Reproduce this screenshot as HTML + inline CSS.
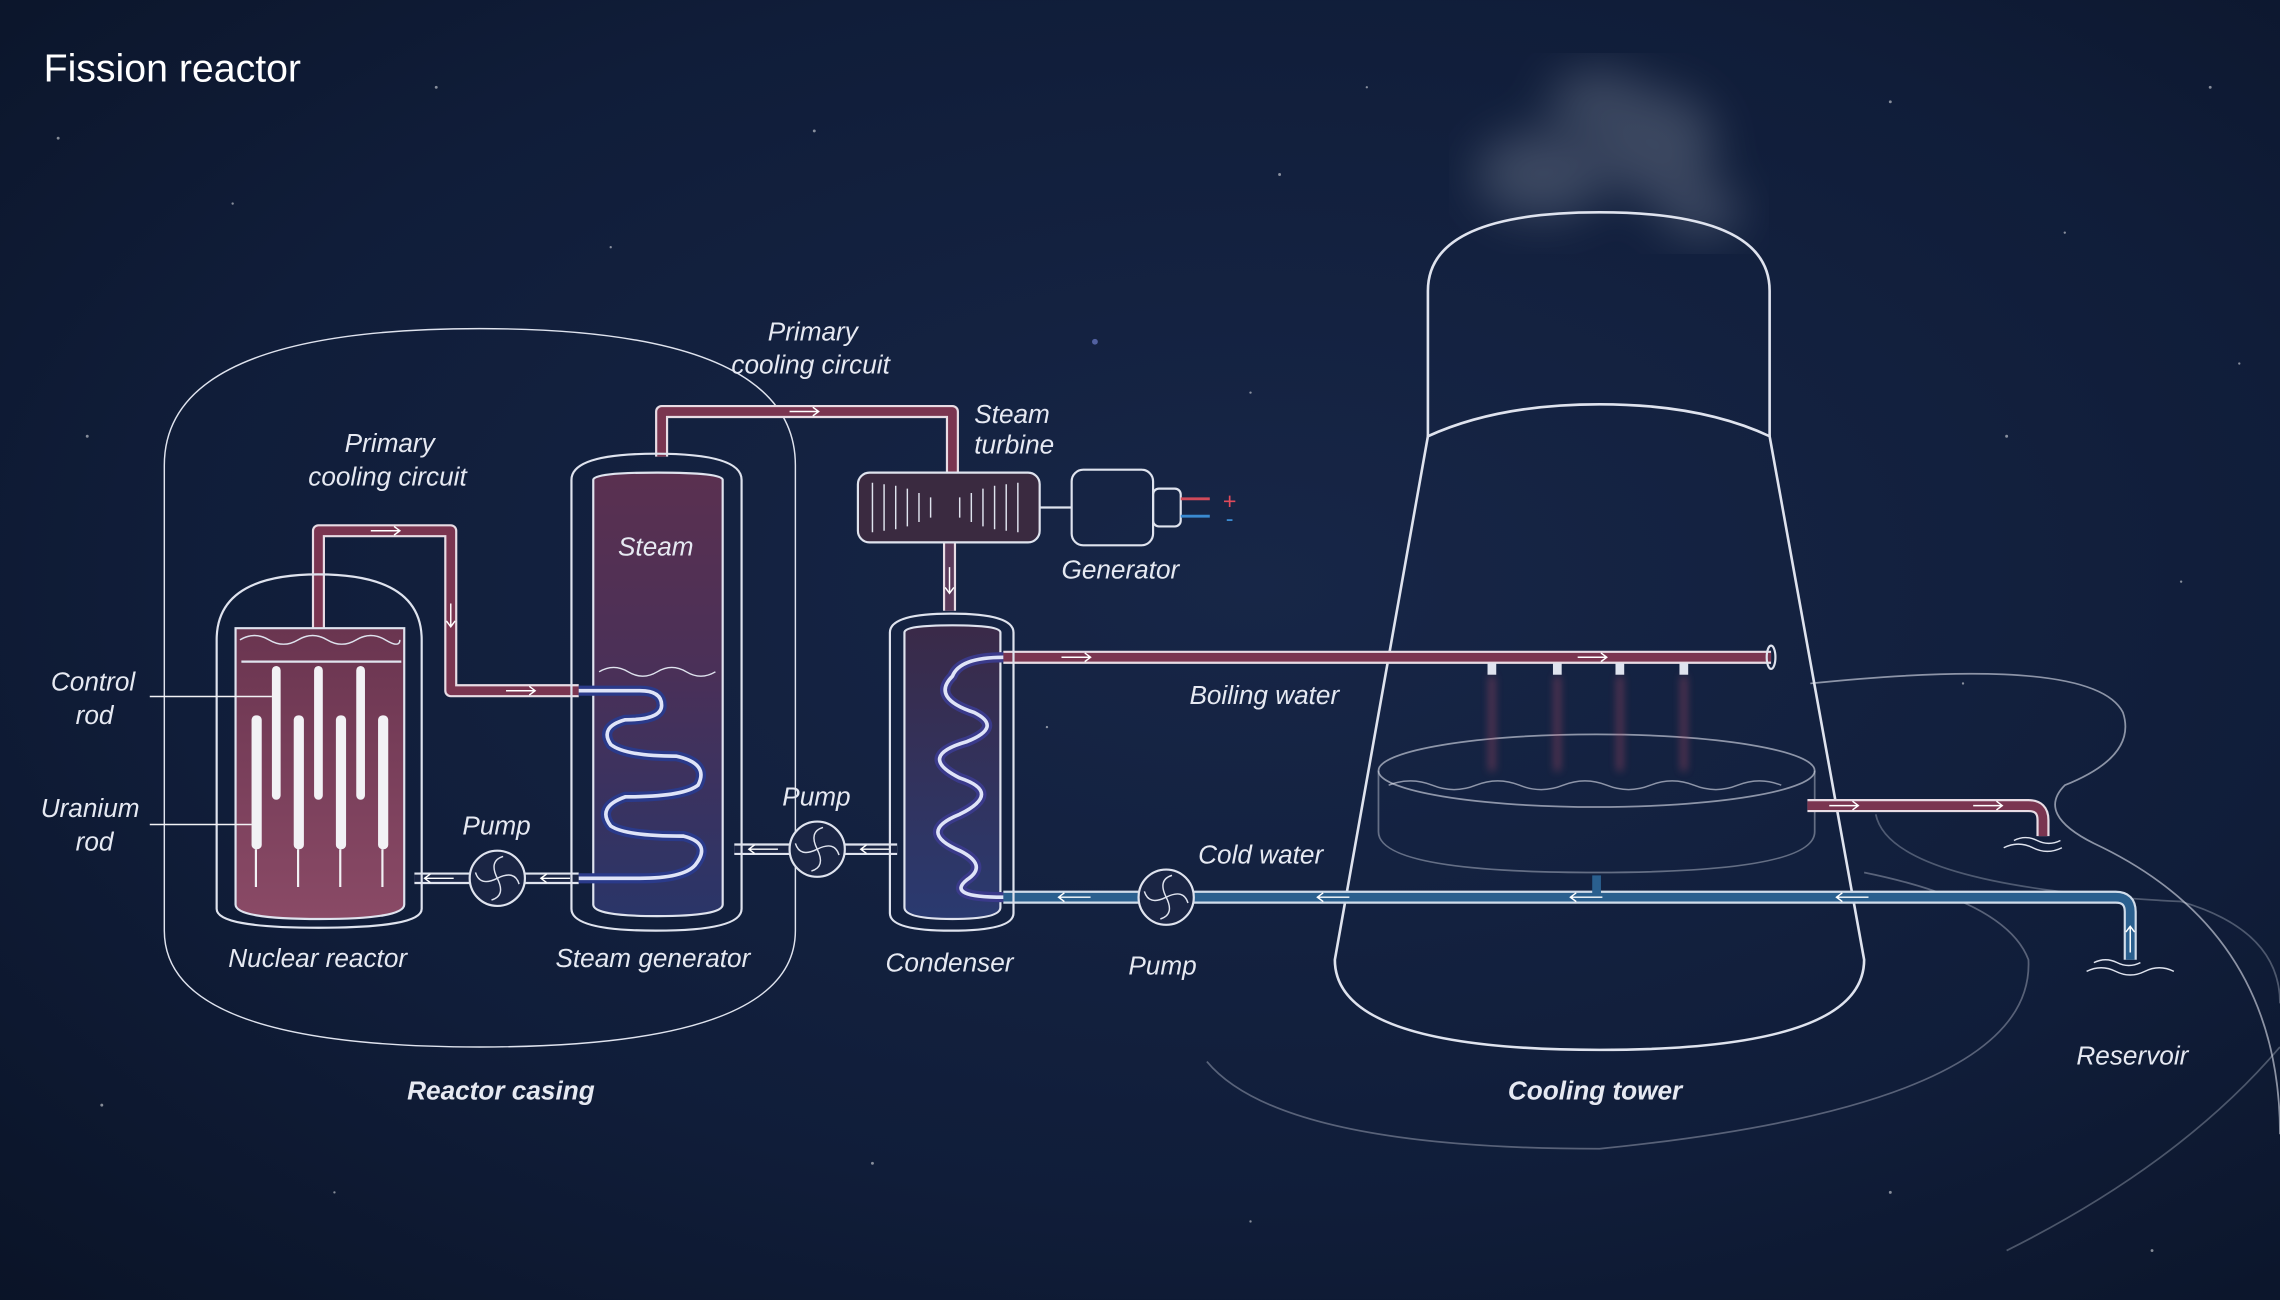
<!DOCTYPE html>
<html><head><meta charset="utf-8"><style>
html,body{margin:0;padding:0;background:#0b1630;}
svg{display:block}
text{font-family:"Liberation Sans",sans-serif;fill:#e6e9f2;font-style:italic;font-size:18px}
</style></head><body>
<svg width="2280" height="1300" viewBox="0 0 1568 894" xmlns="http://www.w3.org/2000/svg">
<defs>
<radialGradient id="bg" cx="0.55" cy="0.45" r="0.8">
<stop offset="0" stop-color="#172647"/><stop offset="0.6" stop-color="#101d39"/><stop offset="1" stop-color="#0a1326"/></radialGradient>
<linearGradient id="core" x1="0" y1="0" x2="0" y2="1"><stop offset="0" stop-color="#6a3550"/><stop offset="1" stop-color="#8a4a66"/></linearGradient>
<linearGradient id="sg" x1="0" y1="0" x2="0" y2="1"><stop offset="0" stop-color="#5a3050"/><stop offset="0.45" stop-color="#4a3058"/><stop offset="1" stop-color="#2a3568"/></linearGradient>
<linearGradient id="cond" x1="0" y1="0" x2="0" y2="1"><stop offset="0" stop-color="#3a2a48"/><stop offset="1" stop-color="#2a3a70"/></linearGradient>
<filter id="blur"><feGaussianBlur stdDeviation="16"/></filter>
<filter id="b2"><feGaussianBlur stdDeviation="3"/></filter>
</defs>
<rect width="1568" height="894" fill="url(#bg)"/>
<g fill="#fff" opacity="0.5">
<circle cx="40" cy="95" r="1"/><circle cx="160" cy="140" r="0.8"/><circle cx="300" cy="60" r="1"/><circle cx="420" cy="170" r="0.8"/><circle cx="560" cy="90" r="1"/><circle cx="753" cy="235" r="2" fill="#8fa0ff"/><circle cx="880" cy="120" r="1"/><circle cx="1300" cy="70" r="1"/><circle cx="1420" cy="160" r="0.8"/><circle cx="1520" cy="60" r="1"/><circle cx="1380" cy="300" r="1"/><circle cx="1500" cy="400" r="0.8"/><circle cx="70" cy="760" r="1"/><circle cx="600" cy="800" r="1"/><circle cx="860" cy="840" r="0.8"/><circle cx="1300" cy="820" r="1"/><circle cx="1480" cy="860" r="1"/><circle cx="230" cy="820" r="0.8"/><circle cx="720" cy="500" r="0.8"/><circle cx="1350" cy="470" r="0.8"/><circle cx="60" cy="300" r="1"/><circle cx="860" cy="270" r="0.8"/><circle cx="940" cy="60" r="0.8"/><circle cx="1540" cy="250" r="0.8"/>
</g>
<g filter="url(#blur)" fill="#cfd5e0" opacity="0.22">
<ellipse cx="1060" cy="120" rx="45" ry="30"/><ellipse cx="1140" cy="100" rx="40" ry="38"/><ellipse cx="1100" cy="70" rx="35" ry="22"/><ellipse cx="1170" cy="145" rx="28" ry="18"/>
</g>
<text x="30" y="56" style="font-style:normal;font-size:27px;fill:#fff">Fission reactor</text>

<g fill="none" stroke="#dfe3ee" stroke-width="1.2">
<path d="M113,640 L113,320 Q113,226 330,226 Q547,226 547,320 L547,640 Q547,720 330,720 Q113,720 113,640 Z" stroke-width="1"/>
<path d="M982,300 L982,200 Q982,146 1100,146 Q1217,146 1217,200 L1217,300" stroke-width="1.8"/>
<path d="M982,300 Q1030,278 1100,278 Q1170,278 1217,300 L1282,660 Q1282,722 1100,722 Q918,722 918,660 Z" stroke-width="1.8"/>
<ellipse cx="1098" cy="530" rx="150" ry="25" stroke-opacity="0.6"/>
<path d="M948,530 L948,572 Q948,600 1098,600 Q1248,600 1248,572 L1248,530" stroke-opacity="0.4"/>
<path d="M1245,470 Q1440,450 1460,490 Q1470,520 1420,540 Q1400,560 1440,580 Q1568,640 1568,780" stroke-opacity="0.6"/>
<path d="M1282,600 Q1380,620 1395,660 Q1400,760 1100,790 Q880,790 830,730" stroke-opacity="0.35"/>
<path d="M1290,560 Q1300,610 1500,620 Q1568,640 1568,690" stroke-opacity="0.3"/>
<path d="M1380,860 Q1500,800 1568,720" stroke-opacity="0.3"/>
</g>

<g fill="none" stroke-linejoin="round">
<path d="M219,440 L219,365 L310,365 L310,475 L398,475" stroke="#e8dce4" stroke-width="9"/>
<path d="M219,440 L219,365 L310,365 L310,475 L398,475" stroke="#7a3550" stroke-width="6"/>
<path d="M455,314 L455,283 L655,283 L655,326" stroke="#e8dce4" stroke-width="9"/>
<path d="M455,314 L455,283 L655,283 L655,326" stroke="#7a3550" stroke-width="6"/>
<path d="M653,373 L653,420" stroke="#e8dce4" stroke-width="9"/><path d="M653,373 L653,420" stroke="#5a3a5a" stroke-width="6"/>
<path d="M690,452 L1218,452" stroke="#e8dce4" stroke-width="9"/><path d="M690,452 L1218,452" stroke="#7a3550" stroke-width="6"/>
<path d="M1243,554 L1395,554 Q1405,554 1405,564 L1405,575" stroke="#e8dce4" stroke-width="9"/><path d="M1243,554 L1395,554 Q1405,554 1405,564 L1405,575" stroke="#7a3550" stroke-width="6"/>
<path d="M690,617 L1455,617 Q1465,617 1465,627 L1465,660" stroke="#d0dcea" stroke-width="9"/>
<path d="M690,617 L1455,617 Q1465,617 1465,627 L1465,660" stroke="#2a5f8e" stroke-width="6"/>
<path d="M1098,617 L1098,602" stroke="#2a5f8e" stroke-width="6"/>
<path d="M285,604 L398,604" stroke="#dfe3ee" stroke-width="8"/><path d="M285,604 L398,604" stroke="#1a2544" stroke-width="5"/>
<path d="M505,584 L617,584" stroke="#dfe3ee" stroke-width="8"/><path d="M505,584 L617,584" stroke="#1a2544" stroke-width="5"/>
</g>
<g stroke="#c0506a" stroke-width="3" opacity="0.6" filter="url(#b2)">
<line x1="1026" y1="465" x2="1026" y2="530"/><line x1="1071" y1="465" x2="1071" y2="530"/><line x1="1114" y1="465" x2="1114" y2="530"/><line x1="1158" y1="465" x2="1158" y2="530"/>
</g>
<g fill="#dfe3ee"><rect x="1023" y="456" width="6" height="8"/><rect x="1068" y="456" width="6" height="8"/><rect x="1111" y="456" width="6" height="8"/><rect x="1155" y="456" width="6" height="8"/></g>
<ellipse cx="1218" cy="452" rx="3" ry="8" fill="none" stroke="#dfe3ee" stroke-width="1.5"/>
<g fill="none" stroke="#fff" stroke-width="1">
<path d="M255,365 h20 m-4,-3 l4,3 l-4,3"/><path d="M310,415 v16 m-3,-4 l3,4 l3,-4"/><path d="M348,475 h20 m-4,-3 l4,3 l-4,3"/>
<path d="M543,283 h20 m-4,-3 l4,3 l-4,3"/><path d="M653,390 v18 m-3,-4 l3,4 l3,-4"/>
<path d="M730,452 h20 m-4,-3 l4,3 l-4,3"/><path d="M1085,452 h20 m-4,-3 l4,3 l-4,3"/>
<path d="M1258,554 h20 m-4,-3 l4,3 l-4,3"/><path d="M1357,554 h20 m-4,-3 l4,3 l-4,3"/>
<path d="M750,617 h-22 m4,-3 l-4,3 l4,3"/><path d="M928,617 h-22 m4,-3 l-4,3 l4,3"/><path d="M1102,617 h-22 m4,-3 l-4,3 l4,3"/><path d="M1285,617 h-22 m4,-3 l-4,3 l4,3"/>
<path d="M1465,655 v-18 m-3,4 l3,-4 l3,4"/>
<path d="M392,604 h-20 m4,-3 l-4,3 l4,3"/><path d="M312,604 h-20 m4,-3 l-4,3 l4,3"/>
<path d="M612,584 h-20 m4,-3 l-4,3 l4,3"/><path d="M535,584 h-20 m4,-3 l-4,3 l4,3"/>
</g>

<g fill="none" stroke="#dfe3ee" stroke-width="1.5">
<path d="M149,625 L149,440 Q149,395 219,395 Q290,395 290,440 L290,625 Q290,638 219,638 Q149,638 149,625 Z"/>
<path d="M162,432 L278,432 L278,622 Q278,632 220,632 Q162,632 162,622 Z" fill="url(#core)"/>
<path d="M165,440 q10,-6 20,0 t20,0 t20,0 t20,0 t20,0 t10,0" stroke-width="1"/>
<line x1="166" y1="455" x2="276" y2="455"/>
</g>
<g fill="#f2f2f5">
<rect x="187" y="458" width="6" height="92" rx="3"/><rect x="216" y="458" width="6" height="92" rx="3"/><rect x="245" y="458" width="6" height="92" rx="3"/>
<rect x="173" y="492" width="7" height="92" rx="3"/><rect x="202" y="492" width="7" height="92" rx="3"/><rect x="231" y="492" width="7" height="92" rx="3"/><rect x="260" y="492" width="7" height="92" rx="3"/>
</g>
<g stroke="#f2f2f5" stroke-width="1.5"><line x1="176" y1="584" x2="176" y2="610"/><line x1="205" y1="584" x2="205" y2="610"/><line x1="234" y1="584" x2="234" y2="610"/><line x1="263" y1="584" x2="263" y2="610"/>
<line x1="103" y1="479" x2="187" y2="479" stroke-width="1"/><line x1="103" y1="567" x2="173" y2="567" stroke-width="1"/></g>

<g fill="none" stroke="#dfe3ee" stroke-width="1.5">
<path d="M393,330 Q393,312 451,312 Q510,312 510,330 L510,625 Q510,640 451,640 Q393,640 393,625 Z"/>
<path d="M408,330 Q408,325 452,325 Q497,325 497,330 L497,622 Q497,630 452,630 Q408,630 408,622 Z" fill="url(#sg)"/>
<path d="M412,462 q10,-6 20,0 t20,0 t20,0 t20,0" stroke-width="1"/>
<path d="M398,475 L440,475 Q455,475 455,485 Q455,495 430,495 Q412,500 420,512 Q430,520 465,520 Q488,525 480,540 Q470,548 430,548 Q410,555 420,568 Q430,575 470,575 Q490,580 478,595 Q470,604 440,604 L398,604" stroke="#2a3a8a" stroke-width="7"/>
<path d="M398,475 L440,475 Q455,475 455,485 Q455,495 430,495 Q412,500 420,512 Q430,520 465,520 Q488,525 480,540 Q470,548 430,548 Q410,555 420,568 Q430,575 470,575 Q490,580 478,595 Q470,604 440,604 L398,604" stroke="#dfe4f8" stroke-width="2.5"/>
</g>
<g fill="none" stroke="#dfe3ee" stroke-width="1.5">
<path d="M612,435 Q612,422 654,422 Q697,422 697,435 L697,628 Q697,640 654,640 Q612,640 612,628 Z"/>
<path d="M622,435 Q622,430 655,430 Q688,430 688,435 L688,624 Q688,632 655,632 Q622,632 622,624 Z" fill="url(#cond)"/>
<path d="M690,452 Q660,452 655,465 Q640,480 670,490 Q690,500 665,510 Q630,520 660,535 Q690,545 660,560 Q630,572 660,585 Q680,595 665,605 Q650,617 690,617" stroke="#3a3a8a" stroke-width="7"/>
<path d="M690,452 Q660,452 655,465 Q640,480 670,490 Q690,500 665,510 Q630,520 660,535 Q690,545 660,560 Q630,572 660,585 Q680,595 665,605 Q650,617 690,617" stroke="#dfe4f8" stroke-width="2.5"/>
</g>
<g fill="none" stroke="#dfe3ee" stroke-width="1.5">
<rect x="590" y="325" width="125" height="48" rx="8" fill="#3a2a40"/>
<path d="M600,332 L600,366 M608,333 L608,365 M616,334 L616,364 M624,336 L624,362 M632,339 L632,359 M640,342 L640,356 M660,342 L660,356 M668,339 L668,359 M676,336 L676,362 M684,334 L684,364 M692,333 L692,365 M700,332 L700,366" stroke-width="1"/>
<path d="M715,349 L737,349"/>
<rect x="737" y="323" width="56" height="52" rx="8"/>
<rect x="793" y="336" width="19" height="26" rx="4"/>
</g>
<g stroke-width="2"><line x1="812" y1="343" x2="832" y2="343" stroke="#d04a5a"/><line x1="812" y1="355" x2="832" y2="355" stroke="#3a8ad0"/></g>
<text x="841" y="350" style="fill:#e04a5a;font-style:normal;font-size:16px">+</text>
<text x="843" y="362" style="fill:#3a8ad0;font-style:normal;font-size:16px">-</text>
<g fill="#1a2544" stroke="#dfe3ee" stroke-width="1.5">
<circle cx="342" cy="604" r="19"/><circle cx="562" cy="584" r="19"/><circle cx="802" cy="617" r="19"/>
</g>
<g fill="none" stroke="#dfe3ee" stroke-width="1">
<path d="M342,604 q-6,-12 4,-15 M342,604 q12,-6 15,4 M342,604 q6,12 -4,15 M342,604 q-12,6 -15,-4"/>
<path d="M562,584 q-6,-12 4,-15 M562,584 q12,-6 15,4 M562,584 q6,12 -4,15 M562,584 q-12,6 -15,-4"/>
<path d="M802,617 q-6,-12 4,-15 M802,617 q12,-6 15,4 M802,617 q6,12 -4,15 M802,617 q-12,6 -15,-4"/>
<path d="M1378,583 q10,-5 20,0 t20,0 M1385,578 q8,-4 16,0 t16,0 M1435,668 q10,-5 20,0 t20,0 t20,0 M1440,662 q8,-4 16,0 t16,0"/>
</g>
<path d="M955,540 q15,-6 30,0 t30,0 t30,0 t30,0 t30,0 t30,0 t30,0 t30,0 t30,0" fill="none" stroke="#dfe3ee" stroke-opacity="0.6"/>

<text x="237" y="311">Primary</text><text x="212" y="334">cooling circuit</text>
<text x="528" y="234">Primary</text><text x="503" y="257">cooling circuit</text>
<text x="670" y="291">Steam</text><text x="670" y="312">turbine</text>
<text x="730" y="398">Generator</text>
<text x="425" y="382">Steam</text>
<text x="35" y="475">Control</text><text x="52" y="498">rod</text>
<text x="28" y="562">Uranium</text><text x="52" y="585">rod</text>
<text x="318" y="574">Pump</text><text x="538" y="554">Pump</text><text x="776" y="670">Pump</text>
<text x="157" y="665">Nuclear reactor</text><text x="382" y="665">Steam generator</text><text x="609" y="668">Condenser</text>
<text x="818" y="484">Boiling water</text><text x="824" y="594">Cold water</text>
<text x="280" y="756" style="font-weight:bold">Reactor casing</text>
<text x="1037" y="756" style="font-weight:bold">Cooling tower</text>
<text x="1428" y="732">Reservoir</text>
</svg>
</body></html>
